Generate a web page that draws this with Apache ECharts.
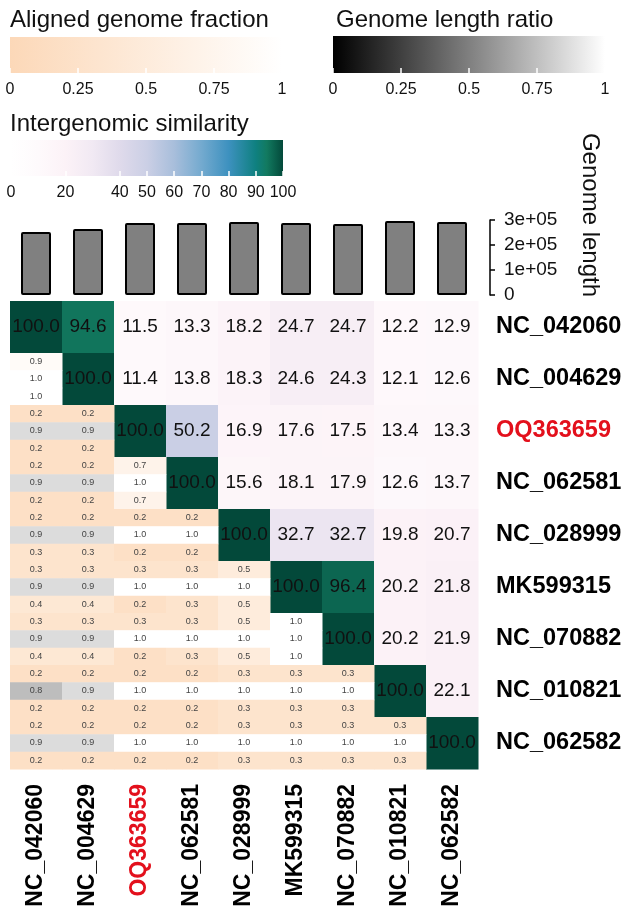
<!DOCTYPE html>
<html>
<head>
<meta charset="utf-8">
<script src="https://cdn.jsdelivr.net/npm/echarts@6/dist/echarts.min.js"></script>
<style>html,body{margin:0;padding:0;background:#fff}#c{width:628px;height:915px}</style>
</head>
<body>
<div id="c"></div>
<script>
// ---------- DATA ----------
const genomes = ['NC_042060','NC_004629','OQ363659','NC_062581','NC_028999','MK599315','NC_070882','NC_010821','NC_062582'];
const highlightGenome = 'OQ363659';
const genomeLength = [252000, 264000, 288000, 288000, 292000, 288000, 284000, 296000, 292000];
const lengthAxisTicks = [0, 100000, 200000, 300000];

// intergenomic similarity, upper triangle (row i, columns i..8)
const simRow1 = [100.0, 94.6, 11.5, 13.3, 18.2, 24.7, 24.7, 12.2, 12.9];
const simRow2 = [100.0, 11.4, 13.8, 18.3, 24.6, 24.3, 12.1, 12.6];
const simRow3 = [100.0, 50.2, 16.9, 17.6, 17.5, 13.4, 13.3];
const simRow4 = [100.0, 15.6, 18.1, 17.9, 12.6, 13.7];
const simRow5 = [100.0, 32.7, 32.7, 19.8, 20.7];
const simRow6 = [100.0, 96.4, 20.2, 21.8];
const simRow7 = [100.0, 20.2, 21.9];
const simRow8 = [100.0, 22.1];
const simRow9 = [100.0];

// lower triangle (row i, columns 0..i-1): aligned fraction (top), length ratio (middle), aligned fraction (bottom)
const alignedTop = [
  [0.9],
  [0.2,0.2],
  [0.2,0.2,0.7],
  [0.2,0.2,0.2,0.2],
  [0.3,0.3,0.3,0.3,0.5],
  [0.3,0.3,0.3,0.3,0.5,1.0],
  [0.2,0.2,0.2,0.2,0.3,0.3,0.3],
  [0.2,0.2,0.2,0.2,0.3,0.3,0.3,0.3]
];
const lengthRatio = [
  [1.0],
  [0.9,0.9],
  [0.9,0.9,1.0],
  [0.9,0.9,1.0,1.0],
  [0.9,0.9,1.0,1.0,1.0],
  [0.9,0.9,1.0,1.0,1.0,1.0],
  [0.8,0.9,1.0,1.0,1.0,1.0,1.0],
  [0.9,0.9,1.0,1.0,1.0,1.0,1.0,1.0]
];
const alignedBottom = [
  [1.0],
  [0.2,0.2],
  [0.2,0.2,0.7],
  [0.3,0.3,0.2,0.2],
  [0.4,0.4,0.2,0.3,0.5],
  [0.4,0.4,0.2,0.3,0.5,1.0],
  [0.2,0.2,0.2,0.2,0.3,0.3,0.3],
  [0.2,0.2,0.2,0.2,0.3,0.3,0.3,0.3]
];

const fractionTicks = [0, 0.25, 0.5, 0.75, 1];
const similarityTicks = [0, 20, 40, 50, 60, 70, 80, 90, 100];

// ---------- STYLE ----------
const FONT = 'Liberation Sans, Arial, Helvetica, sans-serif';
const simStops = [
  [0,'#ffffff'],[10,'#fefafc'],[20,'#fcf2f7'],[30,'#f1e9f3'],[40,'#dfdaeb'],[50,'#cbcfe5'],
  [60,'#a8bedb'],[70,'#74aacf'],[80,'#3d91bf'],[90,'#0f8080'],[94,'#127a60'],[100,'#03493a']
];
const fracStops = [[0,'#fcd8b8'],[1,'#ffffff']];
const ratioStops = [[0,'#000000'],[0.8,'#bdbdbd'],[0.9,'#dcdcdc'],[1,'#ffffff']];

function stopColor(stops, v) {
  if (v <= stops[0][0]) return stops[0][1];
  for (let i = 1; i < stops.length; i++) {
    if (v <= stops[i][0]) {
      const t = (v - stops[i-1][0]) / (stops[i][0] - stops[i-1][0]);
      return echarts.color.lerp(t, [stops[i-1][1], stops[i][1]]);
    }
  }
  return stops[stops.length-1][1];
}

// ---------- BUILD ----------
const simRows = [simRow1, simRow2, simRow3, simRow4, simRow5, simRow6, simRow7, simRow8, simRow9];
const upperData = [];
simRows.forEach((row, i) => row.forEach((v, k) => upperData.push([i + k, i, v])));
const lowerData = [];
for (let i = 1; i < genomes.length; i++) {
  for (let j = 0; j < i; j++) {
    lowerData.push([j, i, alignedTop[i-1][j], lengthRatio[i-1][j], alignedBottom[i-1][j]]);
  }
}

function renderUpper(params, api) {
  const c = api.coord([api.value(0), api.value(1)]);
  const s = api.size([1, 1]);
  const v = api.value(2);
  return {
    type: 'group',
    children: [
      { type: 'rect', shape: { x: c[0]-s[0]/2, y: c[1]-s[1]/2, width: s[0]+0.5, height: s[1]+0.5 },
        style: { fill: stopColor(simStops, v) } },
      { type: 'text', style: { text: v.toFixed(1), x: c[0], y: c[1], align: 'center', verticalAlign: 'middle',
        font: '19px ' + FONT, fill: '#111' } }
    ]
  };
}
function renderLower(params, api) {
  const c = api.coord([api.value(0), api.value(1)]);
  const s = api.size([1, 1]);
  const h = s[1] / 3;
  const vals = [api.value(2), api.value(3), api.value(4)];
  const stops = [fracStops, ratioStops, fracStops];
  const children = [];
  vals.forEach((v, k) => {
    const y0 = c[1] - s[1]/2 + k*h;
    children.push({ type: 'rect', shape: { x: c[0]-s[0]/2, y: y0, width: s[0]+0.5, height: h+0.5 },
      style: { fill: stopColor(stops[k], v) } });
    children.push({ type: 'text', style: { text: v.toFixed(1), x: c[0], y: y0 + h/2, align: 'center',
      verticalAlign: 'middle', font: '9px ' + FONT, fill: '#444' } });
  });
  return { type: 'group', children };
}
function gradientRenderer(stops, maxV) {
  return function (params, api) {
    const cs = params.coordSys;
    return { type: 'rect', shape: { x: cs.x, y: cs.y, width: cs.width, height: cs.height },
      style: { fill: new echarts.graphic.LinearGradient(0, 0, 1, 0,
        stops.map(s => ({ offset: s[0] / maxV, color: s[1] }))) } };
  };
}
const legendGradientStops = { frac: fracStops, ratio: [[0,'#000000'],[1,'#ffffff']], sim: simStops };

const tickStyle = { show: true, inside: true, length: 5, lineStyle: { color: '#ffffff', width: 1.5 } };
const labelStyle = { fontSize: 16, fontFamily: FONT, color: '#111', margin: 9 };

const chart = echarts.init(document.getElementById('c'), null, { renderer: 'canvas' });
chart.setOption({
  animation: false,
  backgroundColor: '#ffffff',
  grid: [
    { left: 10, top: 301, width: 468, height: 468 },   // heatmap
    { left: 10, top: 220, width: 468, height: 75 },    // genome length bars
    { left: 10, top: 37, width: 272, height: 36 },     // aligned fraction legend
    { left: 333, top: 36, width: 272, height: 37 },    // length ratio legend
    { left: 11, top: 140, width: 272, height: 36 }     // similarity legend
  ],
  xAxis: [
    { gridIndex: 0, type: 'category', data: genomes, position: 'bottom',
      axisLine: { show: false }, axisTick: { show: false },
      axisLabel: { rotate: 90, margin: 15, fontSize: 23, fontWeight: 'bold', fontFamily: FONT,
        color: (val) => val === highlightGenome ? '#e3101c' : '#000' } },
    { gridIndex: 1, type: 'category', data: genomes, show: false },
    { gridIndex: 2, type: 'value', min: 0, max: 1, interval: 0.25, z: 10,
      axisLabel: Object.assign({}, labelStyle, { customValues: fractionTicks, formatter: v => String(v) }),
      axisTick: Object.assign({}, tickStyle, { customValues: fractionTicks }),
      axisLine: { show: false }, splitLine: { show: false } },
    { gridIndex: 3, type: 'value', min: 0, max: 1, interval: 0.25, z: 10,
      axisLabel: Object.assign({}, labelStyle, { customValues: fractionTicks, formatter: v => String(v) }),
      axisTick: Object.assign({}, tickStyle, { customValues: fractionTicks }),
      axisLine: { show: false }, splitLine: { show: false } },
    { gridIndex: 4, type: 'value', min: 0, max: 100, interval: 10, z: 10,
      axisLabel: Object.assign({}, labelStyle, { customValues: similarityTicks }),
      axisTick: Object.assign({}, tickStyle, { customValues: similarityTicks }),
      axisLine: { show: false }, splitLine: { show: false } }
  ],
  yAxis: [
    { gridIndex: 0, type: 'category', data: genomes, inverse: true, position: 'right',
      axisLine: { show: false }, axisTick: { show: false },
      axisLabel: { margin: 18, fontSize: 23.5, fontWeight: 'bold', fontFamily: FONT, align: 'left',
        color: (val) => val === highlightGenome ? '#e3101c' : '#000' } },
    { gridIndex: 1, type: 'value', min: 0, max: 300000, interval: 100000, position: 'right', offset: 12,
      axisLine: { show: true, lineStyle: { color: '#000', width: 1.5 } },
      axisTick: { show: true, length: 5, lineStyle: { color: '#000', width: 1.5 },
        customValues: lengthAxisTicks },
      axisLabel: { fontSize: 19, fontFamily: FONT, color: '#111', margin: 14, align: 'left',
        customValues: lengthAxisTicks,
        formatter: v => v === 0 ? '0' : v.toExponential(0).replace(/e\+(\d)$/, 'e+0$1') },
      splitLine: { show: false } },
    { gridIndex: 2, type: 'value', min: 0, max: 1, show: false },
    { gridIndex: 3, type: 'value', min: 0, max: 1, show: false },
    { gridIndex: 4, type: 'value', min: 0, max: 1, show: false }
  ],
  series: [
    { type: 'custom', xAxisIndex: 0, yAxisIndex: 0, data: upperData, renderItem: renderUpper, silent: true },
    { type: 'custom', xAxisIndex: 0, yAxisIndex: 0, data: lowerData, renderItem: renderLower, silent: true },
    { type: 'bar', xAxisIndex: 1, yAxisIndex: 1, data: genomeLength, barWidth: 30,
      itemStyle: { color: '#808080', borderColor: '#000', borderWidth: 2, borderRadius: 1 }, silent: true },
    { type: 'custom', xAxisIndex: 2, yAxisIndex: 2, data: [[0, 0]], renderItem: gradientRenderer(legendGradientStops.frac, 1), silent: true },
    { type: 'custom', xAxisIndex: 3, yAxisIndex: 3, data: [[0, 0]], renderItem: gradientRenderer(legendGradientStops.ratio, 1), silent: true },
    { type: 'custom', xAxisIndex: 4, yAxisIndex: 4, data: [[0, 0]], renderItem: gradientRenderer(legendGradientStops.sim, 100), silent: true }
  ],
  graphic: [
    { type: 'text', left: 10, top: 8, style: { text: 'Aligned genome fraction', font: '24px ' + FONT, fill: '#111' } },
    { type: 'text', left: 336, top: 8, style: { text: 'Genome length ratio', font: '24px ' + FONT, fill: '#111' } },
    { type: 'text', left: 10, top: 112, style: { text: 'Intergenomic similarity', font: '24px ' + FONT, fill: '#111' } },
    { type: 'text', x: 590, y: 215, rotation: -Math.PI / 2,
      style: { text: 'Genome length', font: '24px ' + FONT, fill: '#111', align: 'center', verticalAlign: 'middle' } }
  ]
});
</script>
</body>
</html>
